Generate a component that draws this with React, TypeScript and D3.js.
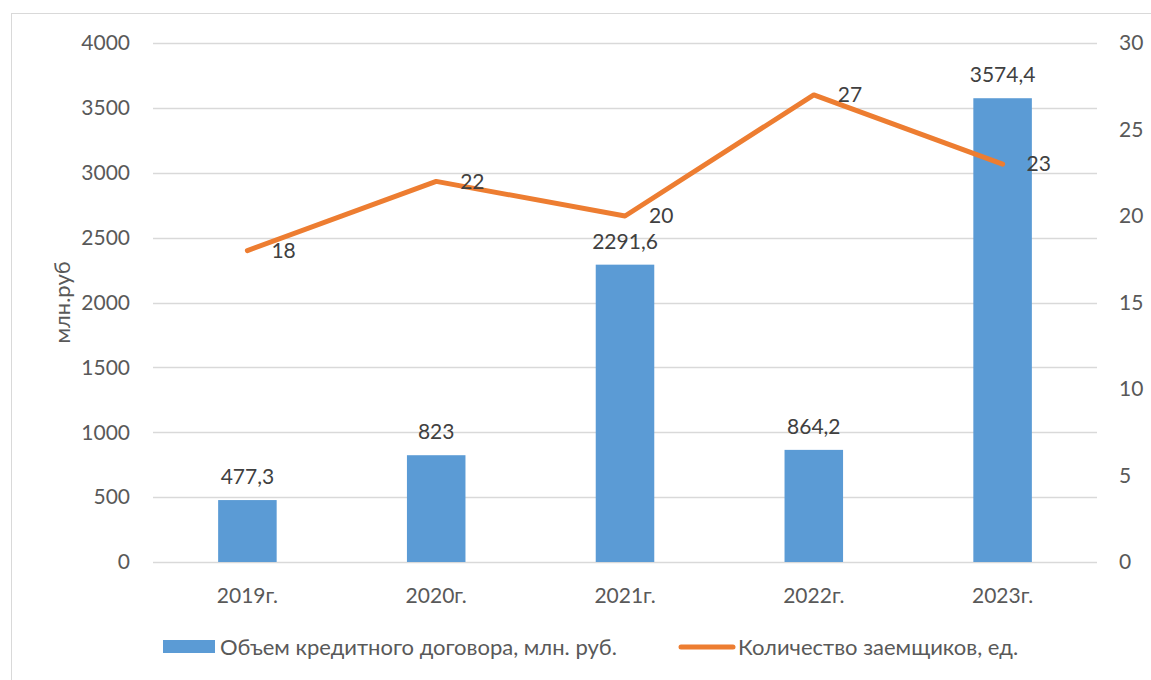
import * as d3 from "d3";
import { useEffect, useRef } from "react";

const years = ["2019г.", "2020г.", "2021г.", "2022г.", "2023г."];
const loanVolume = [477.3, 823, 2291.6, 864.2, 3574.4];
const borrowers = [18, 22, 20, 27, 23];
const leftTicks = [0, 500, 1000, 1500, 2000, 2500, 3000, 3500, 4000];
const rightTicks = [0, 5, 10, 15, 20, 25, 30];

const barLegend = "Объем кредитного договора, млн. руб.";
const lineLegend = "Количество заемщиков, ед.";
const yTitle = "млн.руб";

const FONT = "Lato, 'Open Sans', sans-serif";
const NUM_SIZE = 21;
const TXT_SIZE = 22;

export default function App() {
  const svgRef = useRef<SVGSVGElement>(null);

  useEffect(() => {
    const width = 1151;
    const height = 680;

    const svg = d3.select(svgRef.current)
      .attr("width", width)
      .attr("height", height);

    svg.selectAll("*").remove();

    const left = 153;
    const right = 1097;
    const top = 43;
    const bottom = 562;

    const x = d3.scaleBand().domain(years).range([left, right]).paddingInner(0.69).paddingOuter(0.345);
    const y = d3.scaleLinear().domain([0, 4000]).range([bottom, top]);
    const y2 = d3.scaleLinear().domain([0, 30]).range([bottom, top]);

    // фон и рамка
    svg.append("rect")
      .attr("width", width)
      .attr("height", height)
      .attr("fill", "#ffffff");

    svg.append("rect")
      .attr("x", 11.5)
      .attr("y", 13.5)
      .attr("width", 1200)
      .attr("height", 700)
      .attr("fill", "none")
      .attr("stroke", "#d9d9d9");

    // сетка
    svg.append("g")
      .selectAll("line")
      .data(leftTicks)
      .join("line")
      .attr("x1", left)
      .attr("x2", right)
      .attr("y1", d => Math.round(y(d)) + 0.5)
      .attr("y2", d => Math.round(y(d)) + 0.5)
      .attr("stroke", "#d9d9d9")
      .attr("stroke-width", 1.3);

    // левая ось
    svg.append("g")
      .selectAll("text")
      .data(leftTicks)
      .join("text")
      .attr("x", 130)
      .attr("y", d => y(d))
      .attr("dy", "0.35em")
      .attr("text-anchor", "end")
      .attr("fill", "#595959")
      .attr("font-family", FONT)
      .attr("font-size", NUM_SIZE)
      .text(d => d);

    // правая ось
    svg.append("g")
      .selectAll("text")
      .data(rightTicks)
      .join("text")
      .attr("x", 1119)
      .attr("y", d => y2(d))
      .attr("dy", "0.35em")
      .attr("text-anchor", "start")
      .attr("fill", "#595959")
      .attr("font-family", FONT)
      .attr("font-size", NUM_SIZE)
      .text(d => d);

    // подпись оси
    svg.append("text")
      .attr("transform", `translate(70,${(top + bottom) / 2}) rotate(-90)`)
      .attr("text-anchor", "middle")
      .attr("fill", "#595959")
      .attr("font-family", FONT)
      .attr("font-size", TXT_SIZE)
      .text(yTitle);

    // категории
    svg.append("g")
      .selectAll("text")
      .data(years)
      .join("text")
      .attr("x", d => x(d)! + x.bandwidth() / 2)
      .attr("y", 603)
      .attr("text-anchor", "middle")
      .attr("fill", "#595959")
      .attr("font-family", FONT)
      .attr("font-size", NUM_SIZE)
      .text(d => d);

    // столбцы
    svg.append("g")
      .selectAll("rect")
      .data(loanVolume)
      .join("rect")
      .attr("x", (_, i) => x(years[i])!)
      .attr("y", d => y(d))
      .attr("width", x.bandwidth())
      .attr("height", d => bottom - y(d))
      .attr("fill", "#5b9bd5");

    svg.append("g")
      .selectAll("text")
      .data(loanVolume)
      .join("text")
      .attr("x", (_, i) => x(years[i])! + x.bandwidth() / 2)
      .attr("y", d => y(d) - 16)
      .attr("text-anchor", "middle")
      .attr("fill", "#404040")
      .attr("font-family", FONT)
      .attr("font-size", NUM_SIZE)
      .text(d => String(d).replace(".", ","));

    // линия
    const line = d3.line<number>()
      .x((_, i) => x(years[i])! + x.bandwidth() / 2)
      .y(d => y2(d));

    svg.append("path")
      .datum(borrowers)
      .attr("d", line)
      .attr("fill", "none")
      .attr("stroke", "#ed7d31")
      .attr("stroke-width", 5)
      .attr("stroke-linecap", "round")
      .attr("stroke-linejoin", "round");

    svg.append("g")
      .selectAll("text")
      .data(borrowers)
      .join("text")
      .attr("x", (_, i) => x(years[i])! + x.bandwidth() / 2 + 24)
      .attr("y", d => y2(d))
      .attr("dy", "0.35em")
      .attr("fill", "#404040")
      .attr("font-family", FONT)
      .attr("font-size", NUM_SIZE)
      .text(d => d);

    // легенда
    svg.append("rect")
      .attr("x", 163)
      .attr("y", 640)
      .attr("width", 52)
      .attr("height", 13)
      .attr("fill", "#5b9bd5");

    svg.append("text")
      .attr("x", 220)
      .attr("y", 647)
      .attr("dy", "0.35em")
      .attr("fill", "#595959")
      .attr("font-family", FONT)
      .attr("font-size", TXT_SIZE)
      .text(barLegend);

    svg.append("line")
      .attr("x1", 681)
      .attr("x2", 733)
      .attr("y1", 647)
      .attr("y2", 647)
      .attr("stroke", "#ed7d31")
      .attr("stroke-width", 5)
      .attr("stroke-linecap", "round");

    svg.append("text")
      .attr("x", 738)
      .attr("y", 647)
      .attr("dy", "0.35em")
      .attr("fill", "#595959")
      .attr("font-family", FONT)
      .attr("font-size", TXT_SIZE)
      .text(lineLegend);
  }, []);

  return <svg ref={svgRef} style={{ position: "absolute", left: 0, top: 0, display: "block" }}></svg>;
}
